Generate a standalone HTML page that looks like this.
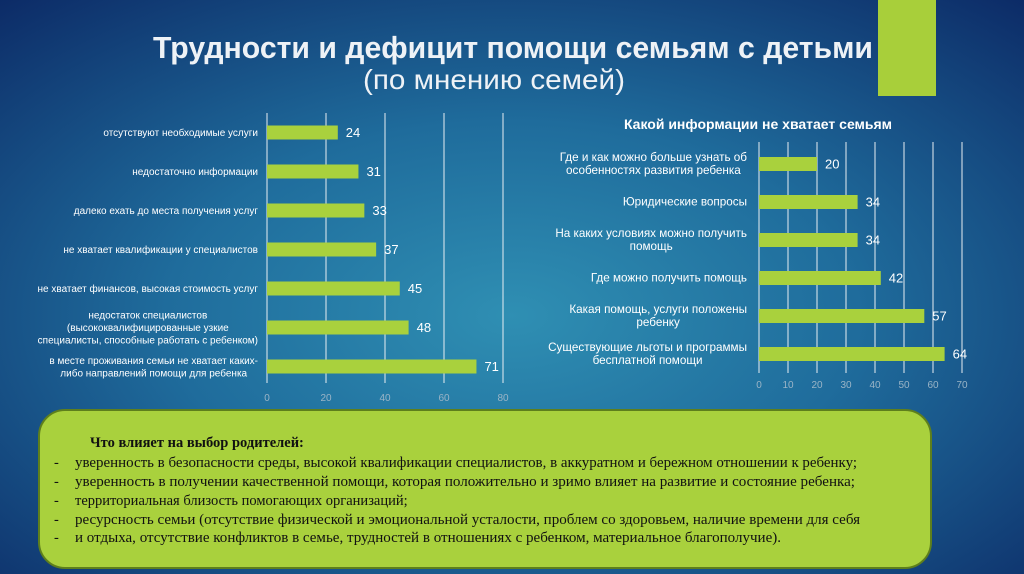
<!DOCTYPE html>
<html><head><meta charset="utf-8">
<style>
html,body{margin:0;padding:0;width:1024px;height:574px;overflow:hidden;}
svg{display:block;font-family:"Liberation Sans",sans-serif;}
</style></head>
<body>
<svg id="s" width="1024" height="574" viewBox="0 0 1024 574">
<defs>
<radialGradient id="bg" cx="0.5" cy="0.55" r="0.75">
<stop offset="0" stop-color="#2f8fb3"/>
<stop offset="0.45" stop-color="#1f6c9c"/>
<stop offset="1" stop-color="#0c2a66"/>
</radialGradient>
</defs>
<rect width="1024" height="574" fill="url(#bg)"/>
<rect x="878" y="0" width="58" height="96" fill="#a8cf3a"/>
<text x="513" y="58" text-anchor="middle" font-size="31" font-weight="bold" fill="#eef2f6" textLength="720" lengthAdjust="spacingAndGlyphs">Трудности и дефицит помощи семьям с детьми</text>
<text x="494" y="89" text-anchor="middle" font-size="28" fill="#eef2f6" textLength="262" lengthAdjust="spacingAndGlyphs">(по мнению семей)</text>
<text x="758" y="129" text-anchor="middle" font-size="14" font-weight="bold" fill="#fff">Какой информации не хватает семьям</text>
<g id="left"></g>
<g id="right"></g>
<rect x="39" y="410" width="892" height="158" rx="26" fill="#a9d13d" stroke="#5e7f1c" stroke-width="2"/>
<g font-family="'Liberation Serif',serif" font-size="14.5" fill="#111">
<text x="90" y="447" font-weight="bold">Что влияет на выбор родителей:</text>
<text x="54" y="467">-</text><text x="75" y="467" textLength="782" lengthAdjust="spacingAndGlyphs">уверенность в безопасности среды, высокой квалификации специалистов, в аккуратном и бережном отношении к ребенку;</text>
<text x="54" y="486">-</text><text x="75" y="486" textLength="780" lengthAdjust="spacingAndGlyphs">уверенность в получении качественной помощи, которая положительно и зримо влияет на развитие и состояние ребенка;</text>
<text x="54" y="505">-</text><text x="75" y="505">территориальная близость помогающих организаций;</text>
<text x="54" y="524">-</text><text x="75" y="524" textLength="785" lengthAdjust="spacingAndGlyphs">ресурсность семьи (отсутствие физической и эмоциональной усталости, проблем со здоровьем, наличие времени для себя</text>
<text x="54" y="542">-</text><text x="75" y="542" textLength="706" lengthAdjust="spacingAndGlyphs">и отдыха, отсутствие конфликтов в семье, трудностей в отношениях с ребенком, материальное благополучие).</text>
</g>
</svg>
<script>
const leftCats=[["отсутствуют необходимые услуги"],["недостаточно информации"],["далеко ехать до места получения услуг"],["не хватает квалификации у специалистов"],["не хватает финансов, высокая стоимость услуг"],["недостаток специалистов","(высококвалифицированные узкие","специалисты, способные работать с ребенком)"],["в месте проживания семьи не хватает каких-","либо направлений помощи для ребенка"]];
const leftVals=[24,31,33,37,45,48,71];
const leftTicks=[0,20,40,60,80];
const rightCats=[["Где и как можно больше узнать об","особенностях развития ребенка"],["Юридические вопросы"],["На каких условиях можно получить","помощь"],["Где можно получить помощь"],["Какая помощь, услуги положены","ребенку"],["Существующие льготы и программы","бесплатной помощи"]];
const rightVals=[20,34,34,42,57,64];
const rightTicks=[0,10,20,30,40,50,60,70];
const NS="http://www.w3.org/2000/svg";
function mk(g,tag,attrs,txt){const e=document.createElementNS(NS,tag);for(const k in attrs)e.setAttribute(k,attrs[k]);if(txt!==undefined)e.textContent=txt;g.appendChild(e);return e;}
function chart(gid,cats,vals,ticks,o){
 const g=document.getElementById(gid);
 const max=ticks[ticks.length-1];
 const x=v=>o.x0+(v/max)*(o.x1-o.x0);
 const step=(o.yb-o.yt)/cats.length;
 const y=i=>o.yt+step*(i+0.5);
 ticks.forEach(t=>{
  const l=mk(g,'line',{x1:x(t),x2:x(t),y1:o.gt,y2:o.gb,stroke:'#e8eef2','stroke-width':1});
  
  
  const tx=mk(g,'text',{x:x(t),y:o.ty,'text-anchor':'middle','font-size':10,fill:'#9ab4c6'},String(t));
  
  
 });
 vals.forEach((v,i)=>{
  const cy=y(i);
  const b=mk(g,'rect',{x:x(0),y:cy-o.bh/2,width:x(v)-x(0),height:o.bh,fill:'#a9d13d'});
  
  
  const vl=mk(g,'text',{x:x(v)+o.vo,y:cy+4.5,'font-size':o.vf,fill:'#fff'},String(v));
  
  
  const lines=cats[i];const lh=o.lh;
  const els=lines.map((s,j)=>{
   const t=mk(g,'text',{x:o.lx,y:cy+3.5+(j-(lines.length-1)/2)*lh,'text-anchor':'middle','font-size':o.lf,fill:'#fff'},s);
   
   
   return t;
  });
  let w=0;els.forEach(e=>{w=Math.max(w,e.getComputedTextLength());});
  els.forEach(e=>e.setAttribute('x',o.lx-w/2));
 });
}
chart('left',leftCats,leftVals,leftTicks,{x0:267,x1:503,yt:113,yb:386,gt:113,gb:383,ty:401,bh:14,vo:8,vf:13,lx:258,lf:10,lh:12.5});
chart('right',rightCats,rightVals,rightTicks,{x0:759,x1:962,yt:145,yb:373,gt:142,gb:373,ty:388,bh:14,vo:8,vf:13,lx:747,lf:11.7,lh:13});
</script>
</body></html>
